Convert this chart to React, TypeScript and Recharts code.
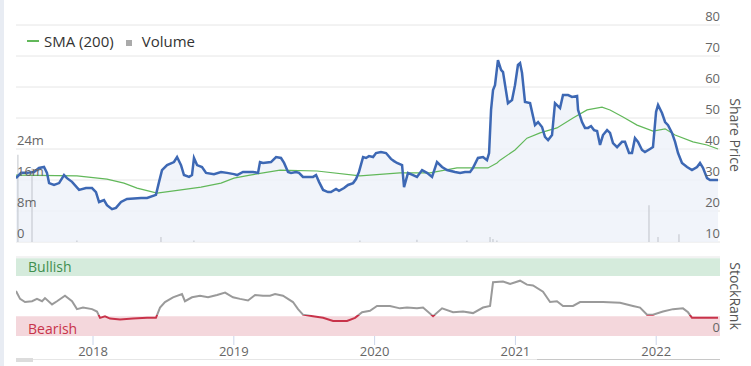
import React from 'react';
import { ComposedChart, Line, Area, Bar, XAxis, YAxis, CartesianGrid, ReferenceArea, ReferenceLine } from 'recharts';

// dates are decimal years
const priceDates = [
  2017.453, 2017.489, 2017.531, 2017.581, 2017.616, 2017.652, 2017.673, 2017.688, 2017.723, 2017.759,
  2017.794, 2017.815, 2017.851, 2017.901, 2017.95, 2017.993, 2018.021, 2018.043, 2018.078, 2018.099,
  2018.135, 2018.163, 2018.199, 2018.241, 2018.341, 2018.384, 2018.447, 2018.469, 2018.49, 2018.526,
  2018.575, 2018.597, 2018.625, 2018.646, 2018.682, 2018.703, 2018.717, 2018.739, 2018.774, 2018.803,
  2018.859, 2018.909, 2018.952, 2019.001, 2019.023, 2019.065, 2019.136, 2019.172, 2019.186, 2019.207,
  2019.264, 2019.3, 2019.335, 2019.357, 2019.385, 2019.406, 2019.442, 2019.463, 2019.491, 2019.563,
  2019.584, 2019.605, 2019.634, 2019.669, 2019.69, 2019.726, 2019.747, 2019.783, 2019.811, 2019.847,
  2019.868, 2019.889, 2019.918, 2019.939, 2019.96, 2019.989, 2020.01, 2020.045, 2020.081, 2020.116,
  2020.138, 2020.159, 2020.195, 2020.209, 2020.237, 2020.273, 2020.301, 2020.337, 2020.372, 2020.408,
  2020.443, 2020.479, 2020.514, 2020.571, 2020.607, 2020.642, 2020.678, 2020.699, 2020.734, 2020.77,
  2020.798, 2020.813, 2020.827, 2020.841, 2020.855, 2020.876, 2020.898, 2020.912, 2020.947, 2020.976,
  2020.997, 2021.018, 2021.033, 2021.047, 2021.068, 2021.104, 2021.139, 2021.161, 2021.189, 2021.21,
  2021.232, 2021.26, 2021.281, 2021.317, 2021.338, 2021.374, 2021.402, 2021.438, 2021.445, 2021.473,
  2021.494, 2021.516, 2021.537, 2021.558, 2021.58, 2021.601, 2021.622, 2021.651, 2021.672, 2021.693,
  2021.722, 2021.757, 2021.778, 2021.807, 2021.828, 2021.849, 2021.871, 2021.899, 2021.92, 2021.956,
  2021.977, 2021.999, 2022.013, 2022.041, 2022.063, 2022.084, 2022.112, 2022.134, 2022.155, 2022.183,
  2022.219, 2022.254, 2022.29, 2022.311, 2022.332, 2022.361, 2022.382, 2022.439,
];
const priceValues = [
  30.6, 32.3, 32.3, 32.6, 33.9, 34.2, 32.3, 29.0, 28.4, 29.0,
  31.6, 30.6, 29.4, 26.8, 27.4, 27.4, 26.1, 22.9, 23.5, 21.9,
  20.6, 21.0, 22.9, 23.9, 24.2, 24.2, 25.2, 29.4, 33.2, 34.8,
  35.8, 37.4, 34.8, 31.6, 31.0, 31.6, 37.1, 34.8, 34.2, 32.3,
  31.9, 32.6, 32.3, 31.9, 31.6, 32.6, 32.6, 32.3, 35.8, 35.5,
  35.8, 37.4, 37.1, 35.5, 32.6, 32.3, 32.6, 32.3, 31.0, 31.0,
  31.6, 29.4, 26.8, 26.1, 26.1, 27.1, 26.5, 27.4, 28.4, 29.0,
  30.3, 32.6, 37.4, 37.1, 37.7, 37.4, 38.7, 39.0, 38.7, 36.8,
  36.1, 35.5, 34.8, 27.7, 32.3, 31.6, 31.0, 33.2, 32.3, 31.0,
  35.8, 34.2, 33.2, 32.6, 32.3, 32.6, 32.6, 33.9, 37.1, 37.4,
  36.4, 38.7, 52.6, 59.0, 60.6, 68.7, 65.5, 64.8, 54.8, 55.8,
  60.6, 67.1, 67.7, 64.5, 55.2, 54.8, 47.7, 48.7, 47.1, 43.9,
  42.9, 44.5, 54.8, 53.2, 57.4, 57.4, 56.8, 57.1, 52.6, 48.7,
  46.8, 46.8, 47.4, 46.1, 45.8, 41.3, 44.5, 46.1, 45.2, 41.9,
  40.6, 42.3, 42.3, 38.7, 38.7, 43.5, 42.3, 39.7, 39.0, 40.0,
  40.6, 52.0, 54.2, 51.6, 48.7, 47.7, 45.2, 42.3, 38.7, 35.5,
  34.2, 33.2, 34.2, 35.5, 33.9, 30.6, 30.0, 30.0,
];

const smaDates = [
  2017.453, 2017.886, 2018.099, 2018.22, 2018.313, 2018.455, 2018.625, 2018.767, 2018.909, 2019.001,
  2019.115, 2019.328, 2019.591, 2019.896, 2020.18, 2020.393, 2020.585, 2020.805, 2020.869, 2020.891,
  2020.997, 2021.082, 2021.175, 2021.295, 2021.409, 2021.509, 2021.615, 2021.672, 2021.764, 2021.864,
  2021.977, 2022.063, 2022.134, 2022.261, 2022.361, 2022.439,
];
const smaValues = [
  31.6, 31.3, 30.3, 29.0, 27.4, 25.8, 26.8, 27.7, 29.0, 30.6,
  31.6, 33.2, 32.9, 31.3, 32.3, 32.3, 33.9, 33.9, 35.5, 36.4,
  39.7, 43.5, 45.2, 46.8, 50.0, 52.6, 53.5, 52.6, 50.3, 47.7,
  45.8, 46.5, 44.5, 42.3, 41.3, 40.0,
];

// volume in millions
const volumeDates = [
  2017.467, 2017.567, 2017.886, 2018.483, 2018.717, 2019.896, 2020.301, 2020.656, 2020.82, 2020.841,
  2020.869, 2021.949, 2022.013, 2022.162,
];
const volumeValues = [22.5, 19, 0.4, 1.3, 0.4, 0.4, 0.6, 0.4, 1.3, 0.8, 0.4, 9.5, 1.3, 2.0];

const rankDates = [
  2017.453, 2017.482, 2017.517, 2017.567, 2017.602, 2017.638, 2017.659, 2017.709, 2017.744, 2017.801,
  2017.851, 2017.886, 2017.929, 2017.993, 2018.028, 2018.05, 2018.085, 2018.121, 2018.192, 2018.284,
  2018.384, 2018.447, 2018.476, 2018.511, 2018.568, 2018.632, 2018.653, 2018.703, 2018.76, 2018.817,
  2018.881, 2018.938, 2018.994, 2019.044, 2019.101, 2019.151, 2019.207, 2019.257, 2019.293, 2019.349,
  2019.42, 2019.456, 2019.491, 2019.562, 2019.634, 2019.705, 2019.804, 2019.861, 2019.911, 2019.967,
  2020.017, 2020.109, 2020.18, 2020.23, 2020.301, 2020.344, 2020.415, 2020.479, 2020.557, 2020.628,
  2020.699, 2020.77, 2020.82, 2020.841, 2020.912, 2020.962, 2021.033, 2021.082, 2021.125, 2021.196,
  2021.246, 2021.295, 2021.338, 2021.409, 2021.459, 2021.622, 2021.743, 2021.835, 2021.885, 2021.935,
  2021.977, 2022.048, 2022.119, 2022.19, 2022.226, 2022.254, 2022.332, 2022.439,
];
const rankValues = [
  57, 47, 43, 44, 47, 44, 48, 40, 44, 51,
  44, 34, 36, 34, 31, 23, 25, 22, 21, 22,
  23, 23, 36, 43, 49, 53, 44, 49, 51, 49,
  52, 55, 49, 47, 45, 52, 51, 51, 53, 51,
  43, 34, 27, 25, 23, 19, 19, 23, 30, 32,
  38, 38, 35, 36, 35, 36, 25, 35, 30, 31,
  29, 36, 38, 68, 69, 66, 70, 65, 64, 56,
  43, 44, 38, 38, 43, 43, 42, 38, 36, 27,
  27, 31, 34, 35, 30, 23, 23, 23,
];

const yearTicks = [2018, 2019, 2020, 2021, 2022];
const priceTicks = [10, 20, 30, 40, 50, 60, 70, 80];
const volumeTicks = [0, 8, 16, 24];
const rankTicks = [0];
const bearishLimit = 26;

const timeDomain: [number, number] = [2017.453, 2022.453];
const FONT = '"Open Sans", "DejaVu Sans", sans-serif';

function buildTopRows() {
  const rows = new Map<number, any>();
  const put = (t: number, key: string, v: number) => {
    const r = rows.get(t) ?? { t };
    r[key] = v;
    rows.set(t, r);
  };
  priceDates.forEach((t, i) => put(t, 'price', priceValues[i]));
  smaDates.forEach((t, i) => put(t, 'sma', smaValues[i]));
  volumeDates.forEach((t, i) => put(t, 'volume', volumeValues[i]));
  return [...rows.values()].sort((a, b) => a.t - b.t);
}

const topRows = buildTopRows();
const rankRows = rankDates.map((t, i) => ({ t, rank: rankValues[i] }));

const rankMax = Math.max(...rankValues);
const rankMin = Math.min(...rankValues);
const rankSplit = (rankMax - bearishLimit) / (rankMax - rankMin);

// right axis sits flush with the plot's right edge; labels sit just above their grid line
const renderRightTick = (props: any) => (
  <text key={`r-${props.payload.value}`} x={props.x} y={props.y - 4} textAnchor="end" fill="#666" fontSize={13} fontFamily={FONT}>
    {props.payload.value}
  </text>
);

const renderVolumeTick = (props: any) => (
  <text key={`v-${props.payload.value}`} x={props.x + 1} y={props.y - 4} textAnchor="start" fill="#666" fontSize={13} fontFamily={FONT}>
    {props.payload.value === 0 ? '0' : `${props.payload.value}m`}
  </text>
);

export default function App() {
  return (
    <div style={{ position: 'fixed', left: 0, top: 0, width: 751, height: 366, background: '#fff', fontFamily: FONT, overflow: 'hidden' }}>
      <div style={{ position: 'absolute', left: 0, top: 0, width: 4, height: 366, background: '#e8ecf3' }} />

      <div style={{ position: 'absolute', left: 0, top: 0 }}>
        <ComposedChart width={751} height={250} data={topRows} margin={{ top: 25, right: 0, bottom: 8, left: 0 }}>
          <XAxis dataKey="t" type="number" domain={timeDomain} allowDataOverflow hide />
          <YAxis yAxisId="price" orientation="right" domain={[10, 80]} ticks={priceTicks} width={31} interval={0}
            axisLine={false} tickLine={false} tickSize={0} tickMargin={0} tick={renderRightTick} allowDataOverflow />
          <YAxis yAxisId="vol" orientation="left" domain={[0, 56]} ticks={volumeTicks} width={16} interval={0}
            axisLine={false} tickLine={false} tickSize={0} tickMargin={0} tick={renderVolumeTick} allowDataOverflow />
          <CartesianGrid yAxisId="price" vertical={false} stroke="#e6e6e6" />
          <Area yAxisId="price" dataKey="price" type="linear" stroke="none" fill="#edf1f9" fillOpacity={0.8}
            connectNulls isAnimationActive={false} />
          <Bar yAxisId="vol" dataKey="volume" fill="#b9bcc4" barSize={2} minPointSize={1} isAnimationActive={false} />
          <Line yAxisId="price" dataKey="sma" type="linear" stroke="#62b85a" strokeWidth={1.2} dot={false}
            connectNulls isAnimationActive={false} />
          <Line yAxisId="price" dataKey="price" type="linear" stroke="#3d68b4" strokeWidth={2.5} dot={false}
            connectNulls isAnimationActive={false} />
        </ComposedChart>
      </div>

      <div style={{ position: 'absolute', left: 27, top: 31, display: 'flex', alignItems: 'center', fontSize: 15, color: '#333', whiteSpace: 'nowrap' }}>
        <span style={{ display: 'inline-block', width: 12, height: 1.5, background: '#62b85a', marginRight: 5 }} />
        <span>SMA (200)</span>
        <span style={{ display: 'inline-block', width: 6, height: 6, background: '#aaa', marginLeft: 12, marginRight: 10, marginTop: 3 }} />
        <span>Volume</span>
      </div>

      <div style={{ position: 'absolute', left: 735, top: 135, transform: 'translate(-50%, -50%) rotate(90deg)', fontSize: 14, color: '#555', whiteSpace: 'nowrap' }}>
        Share Price
      </div>

      <div style={{ position: 'absolute', left: 0, top: 250 }}>
        <ComposedChart width={751} height={116} data={rankRows} margin={{ top: 7, right: 0, bottom: 0, left: 16 }}>
          <defs>
            <linearGradient id="rankStroke" x1="0" y1="0" x2="0" y2="1">
              <stop offset={rankSplit} stopColor="#9a9a9a" />
              <stop offset={rankSplit} stopColor="#c8334a" />
            </linearGradient>
          </defs>
          <XAxis dataKey="t" type="number" domain={timeDomain} ticks={yearTicks} allowDataOverflow height={30}
            axisLine={false} tickSize={9} tickLine={{ stroke: '#ccd6eb' }} interval={0}
            tick={{ fill: '#666', fontSize: 13, fontFamily: FONT }} tickFormatter={(v: number) => String(v)} />
          <YAxis yAxisId="rank" orientation="right" domain={[0, 100]} ticks={rankTicks} width={31} interval={0}
            axisLine={false} tickLine={false} tickSize={0} tickMargin={0} tick={renderRightTick} />
          <ReferenceLine yAxisId="rank" y={100} stroke="#e6e6e6" />
          <ReferenceArea yAxisId="rank" y1={76} y2={98.5} fill="#d5ebdc" fillOpacity={1} stroke="none"
            label={{ value: 'Bullish', position: 'insideLeft', offset: 12, fill: '#3f8f4f', fontSize: 14, fontFamily: FONT }} />
          <ReferenceArea yAxisId="rank" y1={0} y2={25} fill="#f4d7dc" fillOpacity={1} stroke="none"
            label={{ value: 'Bearish', position: 'insideLeft', offset: 12, fill: '#c8334a', fontSize: 14, fontFamily: FONT, dy: 3 }} />
          <Line yAxisId="rank" dataKey="rank" type="linear" stroke="url(#rankStroke)" strokeWidth={2} dot={false}
            isAnimationActive={false} />
        </ComposedChart>
      </div>

      <div style={{ position: 'absolute', left: 735, top: 296, transform: 'translate(-50%, -50%) rotate(90deg)', fontSize: 14, color: '#555', whiteSpace: 'nowrap' }}>
        StockRank
      </div>

      <div style={{ position: 'absolute', left: 16, top: 359, width: 704, height: 1, background: '#e6e6e6' }} />
      <div style={{ position: 'absolute', left: 537, top: 359, width: 183, height: 1, background: '#c8c8c8' }} />
      <div style={{ position: 'absolute', left: 16, top: 358, width: 17, height: 4, background: '#dcdcdc' }} />
    </div>
  );
}
